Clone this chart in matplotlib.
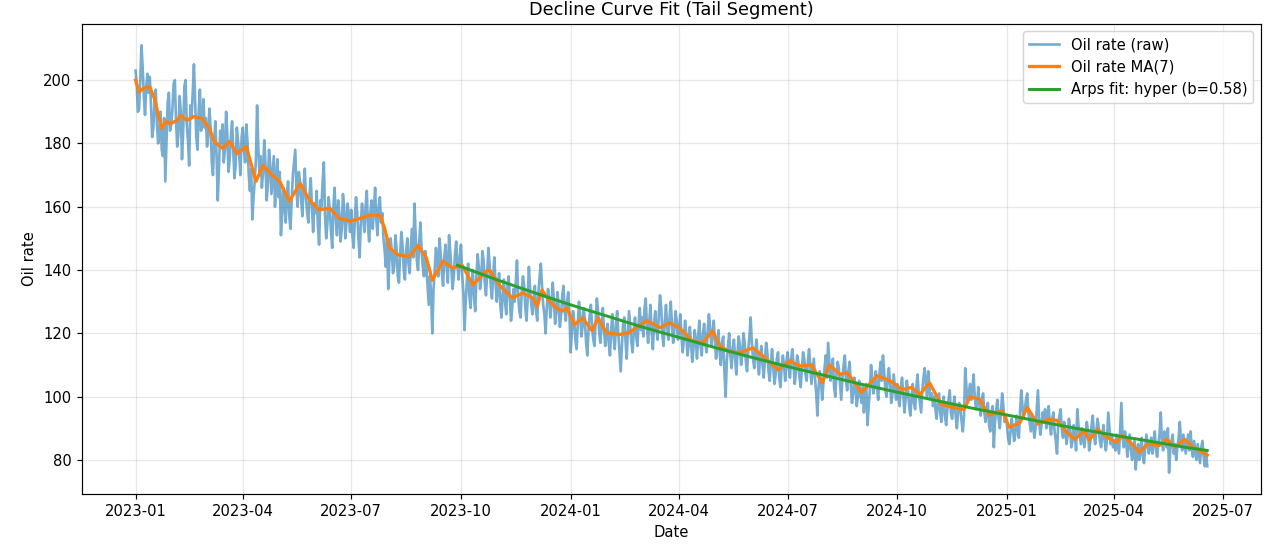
import pandas as pd
import matplotlib.pyplot as plt

# daily raw oil rate, one row per month (2023-01-01 .. 2025-06-18)
oil_raw = [
    203, 199, 190, 191, 200, 211, 204, 195, 189, 198, 202, 196, 201, 192, 182, 185, 194, 197, 186, 180, 183, 190, 178, 176, 188, 168, 181, 193, 196, 184, 186,
    191, 199, 200, 187, 179, 183, 195, 190, 175, 184, 198, 200, 186, 181, 173, 192, 188, 196, 205, 193, 182, 178, 190, 197, 184, 187, 194, 185,
    188, 179, 183, 191, 185, 174, 170, 181, 187, 176, 162, 172, 184, 180, 186, 174, 178, 190, 183, 171, 175, 182, 187, 178, 169, 173, 185, 181, 176, 170, 182,
    185, 178, 174, 186, 180, 170, 165, 172, 156, 163, 168, 175, 192, 179, 170, 176, 166, 171, 181, 174, 162, 167, 178, 173, 164, 170, 176, 160, 168, 175,
    163, 171, 151, 158, 166, 160, 155, 164, 168, 157, 153, 162, 170, 174, 178, 165, 160, 171, 168, 162, 157, 166, 172, 163, 158, 155, 164, 169, 160, 152, 161,
    158, 165, 154, 148, 162, 160, 168, 174, 157, 150, 155, 163, 159, 152, 147, 160, 166, 156, 151, 162, 158, 149, 153, 164, 160, 150, 155, 161, 157, 152,
    159, 151, 147, 156, 163, 158, 150, 144, 155, 161, 157, 152, 160, 165, 154, 149, 158, 162, 153, 159, 166, 156, 151, 160, 163, 155, 158, 150, 146, 141, 150,
    134, 143, 150, 146, 139, 141, 151, 147, 138, 136, 145, 152, 148, 140, 137, 146, 150, 142, 139, 148, 153, 144, 161, 151, 143, 140, 149, 155, 146, 141, 138,
    146, 141, 135, 129, 138, 132, 120, 134, 140, 147, 143, 138, 150, 145, 139, 135, 144, 148, 141, 136, 151, 146, 140, 134, 138, 145, 149, 142, 137, 144,
    148, 139, 133, 121, 130, 137, 142, 132, 128, 136, 140, 131, 127, 138, 145, 141, 134, 137, 146, 143, 136, 132, 139, 147, 142, 135, 131, 138, 144, 136, 130,
    134, 139, 129, 125, 132, 137, 130, 126, 135, 138, 131, 124, 128, 134, 130, 136, 143, 132, 127, 125, 133, 138, 135, 128, 124, 131, 141, 134, 129, 126,
    131, 135, 127, 124, 133, 138, 142, 135, 129, 126, 120, 128, 134, 131, 125, 129, 136, 130, 123, 127, 133, 128, 122, 126, 132, 135, 127, 124, 130, 133, 126,
    114, 120, 127, 124, 118, 115, 123, 130, 126, 119, 122, 128, 124, 117, 113, 121, 126, 129, 122, 118, 116, 124, 131, 127, 120, 117, 123, 128, 121, 116, 119,
    123, 117, 113, 121, 126, 119, 115, 122, 127, 120, 114, 108, 116, 123, 125, 118, 112, 120, 127, 122, 117, 114, 121, 125, 119, 116, 123, 128, 121,
    125, 119, 128, 131, 122, 117, 124, 129, 120, 115, 123, 127, 121, 118, 126, 132, 128, 119, 116, 124, 129, 122, 118, 125, 130, 123, 117, 121, 127, 124, 118,
    121, 126, 119, 114, 118, 124, 120, 113, 116, 122, 117, 111, 115, 121, 118, 112, 119, 124, 116, 113, 120, 123, 117, 114, 121, 126, 122, 116, 119, 124,
    118, 112, 116, 121, 114, 110, 117, 119, 108, 100, 111, 116, 120, 113, 109, 115, 118, 112, 107, 114, 119, 116, 110, 113, 120, 117, 111, 108, 115, 119, 125,
    117, 112, 109, 115, 118, 111, 107, 113, 116, 110, 106, 112, 117, 114, 108, 105, 111, 115, 109, 104, 107, 112, 114, 106, 103, 109, 113, 110, 105, 111,
    114, 109, 106, 112, 115, 110, 104, 108, 113, 111, 106, 103, 109, 114, 112, 107, 105, 111, 115, 110, 104, 108, 112, 106, 101, 94, 103, 108, 105, 99, 104,
    109, 113, 106, 117, 111, 105, 108, 112, 103, 100, 107, 111, 109, 104, 99, 106, 110, 113, 105, 102, 108, 111, 104, 98, 101, 106, 103, 97, 100, 105, 101,
    98, 103, 95, 100, 104, 91, 97, 102, 110, 106, 101, 104, 108, 103, 99, 107, 111, 105, 113, 108, 102, 100, 106, 109, 104, 98, 101, 107, 103, 99,
    104, 100, 97, 103, 106, 101, 95, 99, 105, 102, 97, 94, 100, 104, 98, 96, 103, 107, 101, 98, 95, 102, 106, 109, 104, 100, 108, 103, 99, 101, 97,
    100, 96, 93, 98, 101, 95, 92, 97, 100, 94, 91, 96, 99, 102, 95, 93, 97, 100, 94, 90, 95, 98, 96, 92, 89, 94, 109, 103, 98, 101,
    104, 99, 102, 107, 100, 96, 98, 103, 97, 94, 99, 101, 95, 92, 96, 98, 91, 89, 95, 97, 84, 92, 96, 99, 93, 90, 95, 101, 97, 92, 94,
    91, 87, 85, 89, 93, 90, 86, 88, 94, 91, 87, 95, 102, 97, 93, 96, 99, 101, 95, 92, 89, 94, 91, 87, 90, 96, 102, 93, 88, 91, 95,
    92, 96, 90, 94, 97, 91, 88, 93, 95, 89, 86, 82, 91, 94, 96, 90, 87, 92, 89, 85, 88, 93, 90, 84, 86, 91, 88, 83,
    96, 91, 88, 85, 90, 87, 84, 88, 92, 89, 83, 86, 91, 94, 88, 85, 89, 93, 90, 86, 84, 88, 91, 86, 83, 87, 95, 90, 85, 88, 84,
    86, 83, 88, 85, 82, 90, 98, 87, 84, 89, 86, 81, 85, 88, 83, 80, 84, 86, 77, 82, 85, 80, 83, 87, 81, 79, 84, 88, 85, 82,
    84, 87, 82, 86, 89, 83, 81, 85, 88, 95, 86, 83, 89, 87, 84, 90, 76, 83, 86, 88, 82, 85, 80, 84, 87, 92, 86, 83, 88, 85, 82,
    85, 88, 83, 89, 84, 81, 86, 83, 80, 85, 82, 79, 84, 86, 81, 78, 83, 78,
]

# 7-day moving average (day offset from 2023-01-01, value)
ma_day = [0, 3, 7, 12, 16, 22, 26, 29, 35, 38, 43, 49, 56, 62, 66, 73, 79, 85, 93, 101,
          107, 115, 121, 129, 138, 146, 154, 163, 171, 180, 188, 196, 205, 209, 213, 221, 230, 237, 244, 249,
          258, 266, 274, 283, 294, 297, 305, 316, 325, 333, 337, 341, 347, 353, 358, 362, 368, 375, 383, 388,
          395, 406, 414, 420, 429, 440, 448, 456, 467, 476, 484, 490, 498, 507, 518, 526, 539, 549, 557, 567,
          576, 582, 591, 597, 609, 622, 633, 643, 651, 658, 666, 676, 685, 695, 700, 708, 716, 727, 733, 742,
          748, 757, 765, 773, 781, 788, 796, 800, 807, 815, 823, 828, 836, 842, 849, 859, 865, 872, 880, 887, 899]
ma_value = [200, 196.3, 197.5, 197.9, 194, 184.7, 187, 186.2, 187.3, 188.9, 187.3, 188.5, 187.8, 184.7, 180.6, 178.4, 180.6, 176.8, 179, 168,
            173, 169.8, 168, 161.7, 167.4, 162, 159, 159.5, 156.3, 155.4, 156.3, 157.3, 157.3, 153.2, 146.9, 144.7, 144.3, 147.8, 143.8, 136.8,
            142.8, 140.6, 141.5, 135.3, 139.6, 140, 135.3, 131.2, 132.7, 131.2, 128.6, 133.7, 130.2, 128, 127, 128, 122.7, 124.9, 120.8, 124.9,
            120.2, 119.6, 120.2, 121.8, 124, 121.8, 123.3, 121.8, 117.6, 117, 120.8, 116.1, 114.2, 113.9, 115.4, 112.9, 108.5, 111.3, 109.7, 110,
            104.4, 110, 107, 107.6, 101.3, 106.6, 105, 102.2, 102.9, 100.7, 104.4, 97.5, 96.6, 95.9, 100, 99.1, 94.1, 95.6, 90.3, 91.8,
            96.6, 91.3, 92.8, 92.5, 88.7, 86.5, 89.3, 86.2, 89.7, 87.1, 85.6, 87.8, 85, 82.4, 85, 84.6, 86.5, 84, 86.5, 84, 81.5]

# Arps hyperbolic fit over the tail segment
fit_dates = ["2023-09-28", "2023-11-01", "2023-12-01", "2024-01-01", "2024-02-01", "2024-03-01",
             "2024-04-01", "2024-05-01", "2024-06-01", "2024-07-01", "2024-08-01", "2024-09-01",
             "2024-10-01", "2024-11-01", "2024-12-01", "2025-01-01", "2025-02-01", "2025-03-01",
             "2025-04-01", "2025-05-01", "2025-06-01", "2025-06-18"]
fit_values = [141.5, 136.8, 132.9, 129.0, 125.4, 122.0, 118.7, 115.5, 112.4, 109.5, 106.7,
              103.9, 101.4, 98.9, 96.5, 94.2, 91.9, 89.9, 87.8, 85.9, 83.9, 83.0]

dates = pd.date_range("2023-01-01", periods=len(oil_raw), freq="D")
ma_dates = pd.Timestamp("2023-01-01") + pd.to_timedelta(ma_day, unit="D")

fig, ax = plt.subplots(figsize=(12, 5.1), dpi=1280 / 12)
fig.subplots_adjust(left=0.064, right=0.985, top=0.956, bottom=0.092)

ax.plot(dates, oil_raw, color="C0", alpha=0.6, linewidth=1.8, label="Oil rate (raw)")
ax.plot(ma_dates, ma_value, color="C1", linewidth=2.2, label="Oil rate MA(7)")
ax.plot(pd.to_datetime(fit_dates), fit_values, color="C2", linewidth=2.0,
        label="Arps fit: hyper (b=0.58)")

ax.set_title("Decline Curve Fit (Tail Segment)")
ax.set_xlabel("Date")
ax.set_ylabel("Oil rate")
ax.grid(True, alpha=0.3)
ax.legend(loc="upper right")

fig.savefig("out.png", dpi=1280 / 12)
